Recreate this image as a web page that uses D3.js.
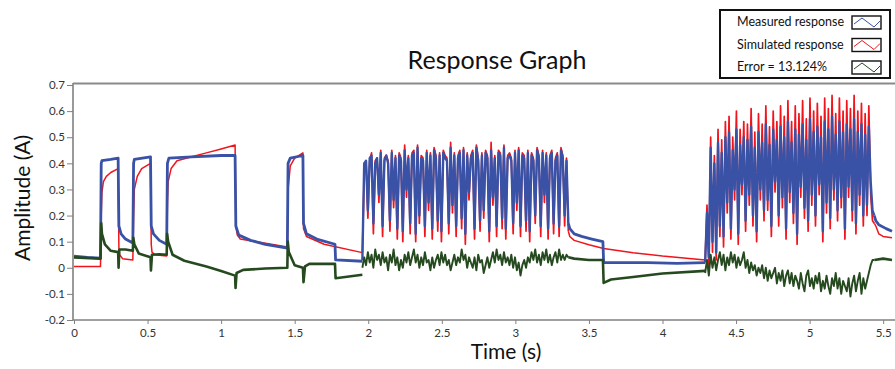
<!DOCTYPE html>
<html>
<head>
<meta charset="utf-8">
<script src="https://cdn.jsdelivr.net/npm/d3@7"></script>
<style>
  body { margin: 0; background: #fff; }
  svg { display: block; font-family: Lato, "Open Sans", sans-serif; }
</style>
</head>
<body>
<div id="graph"></div>
<script>
// time (s), amplitude (A)
const xTicks = [0, 0.5, 1, 1.5, 2, 2.5, 3, 3.5, 4, 4.5, 5, 5.5];
const yTicks = [-0.2, -0.1, 0, 0.1, 0.2, 0.3, 0.4, 0.5, 0.6, 0.7];
const legendLabels = ["Measured response", "Simulated response", "Error = 13.124%"];

// calm parts: [t, value]
const measuredA = [[0,0.045],[0.09,0.04],[0.18,0.037],[0.185,0.40],[0.19,0.41],[0.25,0.415],[0.30,0.42],[0.305,0.16],[0.32,0.13],[0.35,0.11],[0.40,0.095],
  [0.405,0.40],[0.41,0.415],[0.52,0.425],[0.525,0.16],[0.54,0.13],[0.58,0.105],[0.63,0.09],[0.635,0.40],[0.645,0.42],[0.8,0.425],[1.0,0.43],[1.095,0.43],
  [1.10,0.16],[1.12,0.125],[1.2,0.105],[1.3,0.09],[1.45,0.075],[1.455,0.40],[1.47,0.42],[1.556,0.43],[1.56,0.17],[1.58,0.13],[1.65,0.11],[1.774,0.09],
  [1.778,0.03],[1.96,0.025]];
const measuredB = [[3.36,0.17],[3.37,0.15],[3.40,0.13],[3.45,0.12],[3.52,0.11],[3.595,0.10],[3.6,0.02],[3.7,0.02],[3.9,0.02],[4.1,0.017],[4.29,0.02]];
const measuredC = [[5.44,0.20],[5.45,0.18],[5.47,0.165],[5.52,0.15],[5.56,0.14]];

const simulatedA = [[0,0.005],[0.18,0.005],[0.185,0.2],[0.19,0.29],[0.2,0.33],[0.22,0.35],[0.25,0.365],[0.30,0.38],[0.305,0.08],[0.31,0.05],[0.33,0.035],
  [0.40,0.03],[0.405,0.2],[0.41,0.30],[0.43,0.35],[0.46,0.38],[0.52,0.40],[0.525,0.09],[0.53,0.06],[0.55,0.05],[0.63,0.045],[0.635,0.25],[0.64,0.33],
  [0.66,0.38],[0.7,0.41],[0.8,0.425],[0.9,0.44],[1.0,0.455],[1.095,0.47],[1.10,0.16],[1.11,0.125],[1.13,0.11],[1.45,0.08],[1.455,0.3],[1.47,0.39],
  [1.5,0.42],[1.556,0.44],[1.56,0.15],[1.58,0.12],[1.7,0.09],[1.96,0.058]];
const simulatedB = [[3.36,0.14],[3.37,0.12],[3.40,0.105],[3.5,0.088],[3.6,0.074],[3.8,0.058],[4.0,0.045],[4.29,0.03]];
const simulatedC = [[5.44,0.17],[5.45,0.16],[5.47,0.13],[5.5,0.12],[5.56,0.115]];

const errorA = [[0,0.04],[0.18,0.035],[0.185,0.17],[0.19,0.13],[0.21,0.09],[0.25,0.065],[0.30,0.06],[0.303,0.0],[0.308,0.07],[0.35,0.07],[0.40,0.065],
  [0.403,0.115],[0.41,0.09],[0.44,0.055],[0.52,0.04],[0.523,-0.01],[0.53,0.05],[0.58,0.052],[0.63,0.05],[0.633,0.13],[0.64,0.1],[0.67,0.05],[0.75,0.027],
  [0.9,0.005],[1.0,-0.012],[1.095,-0.03],[1.098,-0.077],[1.105,-0.02],[1.15,-0.008],[1.3,-0.003],[1.45,0.0],[1.453,0.1],[1.46,0.06],[1.5,0.01],
  [1.556,0.0],[1.56,-0.055],[1.57,0.005],[1.6,0.015],[1.774,0.015],[1.778,-0.04],[1.96,-0.027]];
const errorB = [[3.36,0.04],[3.4,0.035],[3.5,0.03],[3.595,0.03],[3.6,-0.058],[3.65,-0.045],[3.8,-0.035],[4.0,-0.022],[4.29,-0.012]];
const errorC = [[5.44,0.03],[5.5,0.035],[5.56,0.03]];

// switching bursts: sampled every burstStep seconds
const burst1Start = 1.96, burst2Start = 4.29, burstStep = 0.0125;
const measuredBurst1 = [0.03,0.40,0.41,0.22,0.42,0.43,0.17,0.40,0.42,0.28,
  0.44,0.16,0.41,0.43,0.40,0.18,0.44,0.26,0.42,0.15,
  0.43,0.41,0.14,0.45,0.30,0.42,0.17,0.43,0.44,0.13,
  0.46,0.20,0.42,0.41,0.16,0.44,0.25,0.43,0.15,0.45,
  0.42,0.18,0.43,0.14,0.44,0.42,0.41,0.17,0.46,0.24,
  0.43,0.16,0.42,0.44,0.19,0.45,0.13,0.43,0.29,0.42,
  0.44,0.15,0.46,0.41,0.18,0.43,0.22,0.44,0.42,0.14,
  0.45,0.27,0.42,0.16,0.44,0.43,0.19,0.46,0.15,0.42,
  0.43,0.41,0.17,0.44,0.25,0.45,0.16,0.43,0.42,0.18,
  0.44,0.14,0.43,0.41,0.20,0.45,0.42,0.16,0.44,0.28,
  0.43,0.15,0.42,0.44,0.17,0.41,0.43,0.16,0.45,0.42,
  0.20,0.41,0.17];
const simulatedBurst1 = [0.06,0.36,0.41,0.19,0.41,0.44,0.13,0.41,0.42,0.25,
  0.45,0.12,0.42,0.43,0.41,0.14,0.45,0.23,0.43,0.11,
  0.44,0.42,0.10,0.47,0.27,0.43,0.13,0.44,0.45,0.10,
  0.47,0.17,0.43,0.42,0.12,0.45,0.22,0.44,0.11,0.46,
  0.43,0.14,0.44,0.10,0.45,0.43,0.42,0.13,0.48,0.21,
  0.44,0.12,0.43,0.45,0.15,0.46,0.09,0.44,0.26,0.43,
  0.45,0.11,0.47,0.42,0.14,0.44,0.19,0.45,0.43,0.10,
  0.48,0.24,0.43,0.12,0.45,0.44,0.15,0.47,0.11,0.43,
  0.44,0.42,0.13,0.45,0.22,0.46,0.12,0.44,0.43,0.14,
  0.45,0.10,0.44,0.42,0.17,0.46,0.43,0.12,0.45,0.25,
  0.44,0.11,0.43,0.45,0.13,0.42,0.44,0.12,0.46,0.43,
  0.16,0.42,0.14];
const errorBurst1 = [0.00,0.04,0.01,0.06,0.02,0.05,0.00,0.07,0.03,0.05,
  0.01,0.06,0.02,0.04,-0.01,0.05,0.02,0.07,0.01,0.04,
  -0.01,0.03,0.00,0.05,0.02,0.06,0.01,0.04,0.07,0.02,
  0.05,0.00,0.04,0.01,0.06,0.02,0.03,-0.01,0.04,0.00,
  0.03,0.05,0.01,0.06,0.02,0.05,0.01,0.03,-0.01,0.02,
  0.05,0.01,0.04,0.02,0.07,0.03,0.05,0.00,0.04,0.02,
  0.00,0.04,-0.01,0.05,0.02,0.03,-0.02,0.01,0.04,0.00,
  0.03,0.06,0.02,0.07,0.03,0.05,0.01,0.06,0.02,0.04,
  0.01,0.05,0.00,0.04,-0.01,0.02,-0.03,0.01,0.03,0.00,
  0.04,0.02,0.06,0.03,0.07,0.02,0.05,0.01,0.06,0.03,
  0.07,0.02,0.05,0.01,0.04,0.06,0.02,0.07,0.03,0.05,
  0.03,0.05,0.04];
const measuredBurst2 = [0.02,0.21,0.04,0.46,0.10,0.40,0.06,0.48,0.16,0.44,
  0.12,0.50,0.25,0.52,0.15,0.45,0.30,0.53,0.13,0.47,
  0.32,0.50,0.18,0.49,0.28,0.54,0.20,0.46,0.14,0.52,
  0.30,0.48,0.22,0.55,0.26,0.47,0.16,0.53,0.33,0.49,
  0.20,0.54,0.27,0.50,0.15,0.56,0.29,0.48,0.21,0.53,
  0.13,0.51,0.31,0.55,0.23,0.49,0.18,0.57,0.28,0.52,
  0.20,0.54,0.32,0.50,0.14,0.56,0.25,0.53,0.19,0.58,
  0.30,0.51,0.22,0.56,0.27,0.52,0.15,0.55,0.31,0.53,
  0.22,0.57,0.17,0.52,0.28,0.55,0.20,0.51,0.24,0.54,
  0.33,0.22,0.20];
const simulatedBurst2 = [0.03,0.24,0.01,0.50,0.06,0.43,0.03,0.53,0.12,0.49,
  0.08,0.56,0.21,0.58,0.11,0.50,0.26,0.60,0.09,0.53,
  0.28,0.56,0.14,0.55,0.24,0.61,0.16,0.52,0.10,0.59,
  0.26,0.55,0.18,0.62,0.22,0.54,0.12,0.60,0.29,0.56,
  0.16,0.62,0.23,0.58,0.11,0.64,0.25,0.56,0.17,0.62,
  0.09,0.59,0.27,0.64,0.19,0.57,0.14,0.65,0.24,0.60,
  0.16,0.63,0.28,0.58,0.10,0.65,0.21,0.61,0.15,0.66,
  0.26,0.59,0.18,0.65,0.23,0.60,0.11,0.64,0.27,0.61,
  0.18,0.66,0.13,0.60,0.24,0.63,0.16,0.59,0.20,0.62,
  0.28,0.18,0.17];
const errorBurst2 = [-0.02,0.03,-0.03,0.05,0.00,0.04,-0.01,0.03,0.06,0.01,
  0.05,-0.01,0.04,0.01,0.06,0.02,0.05,0.00,0.04,0.01,
  0.03,0.06,0.00,0.03,-0.02,0.02,-0.01,0.01,-0.03,0.00,
  -0.02,0.01,-0.04,0.00,-0.05,-0.01,-0.04,-0.02,0.00,-0.06,
  -0.02,-0.05,-0.01,-0.07,-0.03,-0.01,-0.06,-0.02,-0.07,-0.03,
  -0.05,-0.08,-0.02,-0.06,-0.09,-0.03,-0.01,-0.07,-0.04,-0.08,
  -0.03,-0.06,-0.02,-0.09,-0.05,-0.08,-0.03,-0.07,-0.10,-0.04,
  -0.07,-0.02,-0.08,-0.04,-0.10,-0.05,-0.07,-0.09,-0.04,-0.11,
  -0.06,-0.03,-0.09,-0.05,-0.02,-0.10,-0.04,-0.08,-0.05,-0.02,
  0.01,0.03,0.03];

const width = 895, height = 369;
const svg = d3.select("#graph").append("svg").attr("width", width).attr("height", height);

const x = d3.scaleLinear().domain([0, 5.56]).range([74, 892]);
const y = d3.scaleLinear().domain([-0.2, 0.7]).range([320, 85]);

const burst = (vals, start) => vals.map((v, i) => [start + i * burstStep, v]);
const line = d3.line().x(d => x(d[0])).y(d => y(d[1]));

svg.append("defs").append("clipPath").attr("id", "plot")
  .append("rect").attr("x", 74).attr("y", 83).attr("width", 821).attr("height", 237);

const series = [
  { color: "#f0141c", calm: 1.5, thin: 1.7, parts: [simulatedA, burst(simulatedBurst1, burst1Start), simulatedB, burst(simulatedBurst2, burst2Start), simulatedC] },
  { color: "#3a52a6", calm: 2.8, thin: 2.4, parts: [measuredA, burst(measuredBurst1, burst1Start), measuredB, burst(measuredBurst2, burst2Start), measuredC] },
  { color: "#264a1f", calm: 2.6, thin: 1.9, parts: [errorA, burst(errorBurst1, burst1Start), errorB, burst(errorBurst2, burst2Start), errorC] }
];

const plot = svg.append("g").attr("clip-path", "url(#plot)");
series.forEach(s => {
  s.parts.forEach((p, i) => {
    plot.append("path")
      .attr("d", line(p))
      .attr("fill", "none")
      .attr("stroke", s.color)
      .attr("stroke-width", i % 2 ? s.thin : s.calm)
      .attr("stroke-linejoin", "round");
  });
});

// axes
const fmt = d => String(+d.toFixed(1));
const yAxis = svg.append("g").attr("transform", "translate(73,0)")
  .call(d3.axisLeft(y).tickValues(yTicks).tickFormat(fmt).tickSize(6).tickSizeOuter(0).tickPadding(2));
const xAxis = svg.append("g").attr("transform", "translate(0,320)")
  .call(d3.axisBottom(x).tickValues(xTicks).tickFormat(fmt).tickSize(4).tickSizeOuter(0).tickPadding(5));
[yAxis, xAxis].forEach(a => {
  a.select(".domain").attr("stroke", "#808080").attr("stroke-width", 1.6);
  a.selectAll(".tick line").attr("stroke", "#808080");
  a.selectAll(".tick text").attr("fill", "#333").style("font-size", "11.5px").style("font-family", "Lato, sans-serif");
});
xAxis.select(".domain").attr("d", "M73,0H895");
yAxis.select(".domain").attr("d", "M0,320V83");
svg.append("line").attr("x1", 73).attr("x2", 895).attr("y1", 83.5).attr("y2", 83.5)
  .attr("stroke", "#8a8a8a").attr("stroke-width", 1.8);

// titles
svg.append("text").attr("x", 497).attr("y", 69).attr("text-anchor", "middle")
  .style("font-size", "25px").attr("fill", "#111").text("Response Graph");
svg.append("text").attr("x", 506).attr("y", 359).attr("text-anchor", "middle")
  .style("font-size", "21px").attr("fill", "#111").text("Time (s)");
svg.append("text").attr("transform", "translate(30,198) rotate(-90)").attr("text-anchor", "middle")
  .style("font-size", "21px").attr("fill", "#111").text("Amplitude (A)");

// legend
const legend = svg.append("g");
legend.append("rect").attr("x", 720).attr("y", 10).attr("width", 170).attr("height", 68)
  .attr("fill", "#fff").attr("stroke", "#111").attr("stroke-width", 2);
const rows = legend.selectAll("g.row").data(legendLabels).join("g")
  .attr("transform", (d, i) => `translate(0,${16 + i * 22.5})`);
rows.append("text").attr("x", 737).attr("y", 10).style("font-size", "12.5px").attr("fill", "#111").text(d => d);
rows.append("rect").attr("x", 852).attr("y", 0).attr("width", 29).attr("height", 13)
  .attr("fill", "#fff").attr("stroke", "#111").attr("stroke-width", 1.4);
rows.append("path").attr("d", "M854,8L862,2L874,11L880,5")
  .attr("fill", "none").attr("stroke", (d, i) => series[[1, 0, 2][i]].color).attr("stroke-width", 1);
</script>
</body>
</html>
